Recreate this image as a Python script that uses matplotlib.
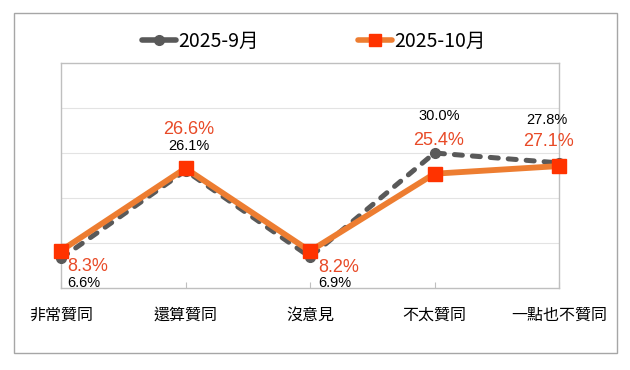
import matplotlib.pyplot as plt
from matplotlib.patches import Rectangle
from matplotlib.lines import Line2D

plt.rcParams['font.family'] = ['Noto Sans CJK TC', 'DejaVu Sans']

categories = ["非常贊同", "還算贊同", "沒意見", "不太贊同", "一點也不贊同"]
sep_vals = [6.6, 26.1, 6.9, 30.0, 27.8]
oct_vals = [8.3, 26.6, 8.2, 25.4, 27.1]
series_names = ["2025-9月", "2025-10月"]

# label placement (pixel offsets from each point, baseline anchored)
label_ha = ["left", "center", "left", "center", "center"]
sep_dx = [6, 3.5, 8, 4.5, -12]
sep_dy = [-29, 21, -30, 33, 39]
oct_dx = [6, 3.5, 8, 4.5, -11]
oct_dy = [-20, 34, -20.5, 29, 20.5]

gray = "#595959"
orange = "#ED7D31"
red = "#FF3300"
red_text = "#E84A27"
num_font = ['Liberation Sans', 'DejaVu Sans']

fig = plt.figure(figsize=(6.3, 3.7), dpi=100)
fig.patches.append(Rectangle((14 / 630, 1 - 353 / 370), 603 / 630, 340 / 370,
                             transform=fig.transFigure, fill=False,
                             edgecolor="#A6A6A6", linewidth=1.0))

ax = fig.add_axes([61 / 630, 1 - 288 / 370, 498 / 630, 225 / 370])
x = list(range(len(categories)))

ax.plot(x, sep_vals, color=gray, linestyle=(0, (1.6, 2.0)), linewidth=3.6,
        dash_capstyle="round", marker="o", markersize=7,
        markerfacecolor=gray, markeredgecolor=gray, zorder=3, clip_on=False)
ax.plot(x, oct_vals, color=orange, linewidth=4.2, marker="s", markersize=9.5,
        markerfacecolor=red, markeredgecolor=red, zorder=4, clip_on=False)

ax.set_xlim(0, 4)
ax.set_ylim(0, 50)
ax.set_yticks([10, 20, 30, 40])
ax.yaxis.grid(True, color="#E3E3E3", linewidth=0.8)
ax.set_axisbelow(True)
ax.tick_params(axis="y", length=0, labelleft=False)
ax.set_xticks(x)
ax.tick_params(axis="x", direction="in", length=4, color="#BFBFBF",
               labelbottom=False)
for s in ax.spines.values():
    s.set_color("#BFBFBF")
    s.set_linewidth(1.0)

# category labels
for i, c in enumerate(categories):
    ax.annotate(c, (i, 0), xycoords=("data", "axes fraction"),
                xytext=(0, -27), textcoords="offset pixels",
                ha="center", va="center", fontsize=11.5, color="black",
                fontweight="medium", annotation_clip=False)

# data labels
for i in range(len(categories)):
    ax.annotate(f"{sep_vals[i]:.1f}%", (i, sep_vals[i]),
                xytext=(sep_dx[i], sep_dy[i]), textcoords="offset pixels",
                ha=label_ha[i], va="baseline", fontsize=10.5, color="black",
                family=num_font, annotation_clip=False)
    ax.annotate(f"{oct_vals[i]:.1f}%", (i, oct_vals[i]),
                xytext=(oct_dx[i], oct_dy[i]), textcoords="offset pixels",
                ha=label_ha[i], va="baseline", fontsize=13, color=red_text,
                family=num_font, annotation_clip=False)

handles = [
    Line2D([], [], color=gray, linewidth=4, marker="o", markersize=7,
           markerfacecolor=gray, markeredgecolor=gray, solid_capstyle="round"),
    Line2D([], [], color=orange, linewidth=4, marker="s", markersize=9,
           markerfacecolor=red, markeredgecolor=red, solid_capstyle="round"),
]
fig.legend(handles, series_names, loc="center", bbox_to_anchor=(314 / 630, 0.889),
           ncol=2, frameon=False, fontsize=14, handlelength=1.75,
           handletextpad=0.12, columnspacing=5.1, borderpad=0)

fig.savefig("out.png", dpi=100)
